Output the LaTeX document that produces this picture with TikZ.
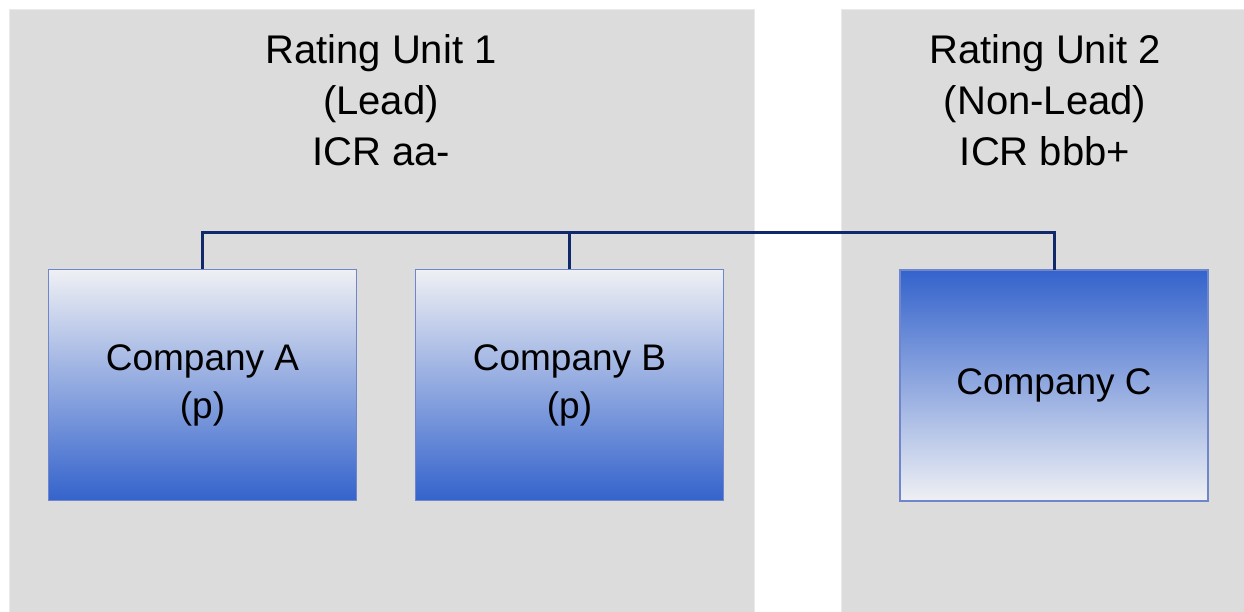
\documentclass[tikz,border=0pt]{standalone}
\usepackage{fontspec}
\setmainfont{Liberation Sans}
\usetikzlibrary{positioning}
\definecolor{panelgray}{HTML}{DCDCDC}
\definecolor{boxedge}{HTML}{6F86CC}
\definecolor{boxblue}{HTML}{3463CC}
\definecolor{boxpale}{HTML}{EFF0F4}
\definecolor{linknavy}{HTML}{10296A}
\tikzset{panel/.style={fill=panelgray, draw=panelgray!60!white, line width=1pt},
  unittitle/.style={align=center, font=\fontsize{40}{51}\selectfont},
  company/.style={draw=boxedge, line width=1.3pt, minimum width=308pt, minimum height=231pt,
    inner sep=0pt, outer sep=0pt, align=center, font=\fontsize{37}{48}\selectfont},
  lead/.style={company, top color=boxpale, bottom color=boxblue},
  nonlead/.style={company, top color=boxblue, bottom color=boxpale},
  link/.style={draw=linknavy, line width=3pt}}

\begin{document}
\begin{tikzpicture}[x=1pt, y=-1pt]
      \useasboundingbox (0, 0) rectangle (1244, 612);
      \fill [white] (0, 0) rectangle (1244, 612);
      \draw [panel] (9, 10) rectangle (754, 615);
      \draw [panel] (841, 10) rectangle (1247, 615);
      \node [unittitle] (titleA) at (381, 100) {Rating Unit 1\\(Lead)\\ICR aa-};
      \node [unittitle] (titleC) at (1045, 100) {Rating Unit 2\\(Non-Lead)\\ICR bbb+};
      \node [lead] (compA) at (202.5, 385) {Company A\\(p)};
      \node [lead, right=59pt of compA] (compB) {Company B\\(p)};
      \node [nonlead] (compC) at (1054, 385.5) {Company C};
      \coordinate (bus) at (0, 233);
      \draw [link] (compA.north) -- (compA.north |- bus) -| (compC.north);
      \draw [link] (compB.north) -- (compB.north |- bus);
    \end{tikzpicture}
\end{document}
